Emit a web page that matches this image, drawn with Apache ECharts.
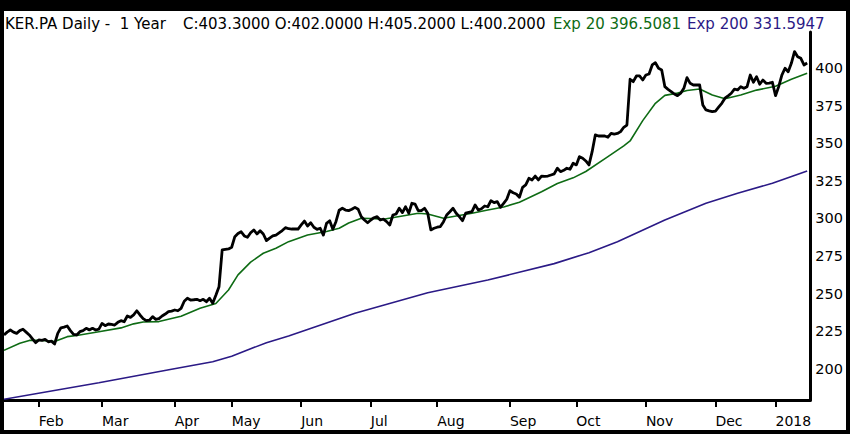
<!DOCTYPE html>
<html>
<head>
<meta charset="utf-8">
<script src="https://cdn.jsdelivr.net/npm/echarts@6/dist/echarts.min.js"></script>
<style>
  html, body { margin: 0; padding: 0; background: #000; width: 850px; height: 434px; overflow: hidden; }
  #c { position: absolute; left: 4px; top: 11px; width: 842px; height: 419px; background: #fff; }
</style>
</head>
<body>
<div id="c"></div>
<script>
// ---- data ----
const title = 'KER.PA Daily -  1 Year';
const ohlcText = 'C:403.3000 O:402.0000 H:405.2000 L:400.2000';
const ema20Label = 'Exp 20 396.5081';
const ema200Label = 'Exp 200 331.5947';
const monthNames = ['Jan','Feb','Mar','Apr','May','Jun','Jul','Aug','Sep','Oct','Nov','Dec'];
const yTicks = [200, 225, 250, 275, 300, 325, 350, 375, 400];
const firstDay = '2017-01-17';
const lastDay = '2018-01-17';
const holidays = ['2017-04-14','2017-04-17','2017-05-01','2017-12-25','2017-12-26','2018-01-01'];

// daily close, one per trading day
const closeValues = [
  222.6, 224.5, 225.9, 224.5, 223.7, 225.5, 226.4, 224.5, 222.6, 220.0,
  217.5, 219.3, 219.0, 219.7, 218.1, 218.5, 216.6, 223.7, 227.4, 227.8,
  228.6, 225.5, 223.0, 222.6, 224.8, 225.5, 227.0, 226.0, 227.0, 225.9,
  226.5, 230.3, 228.8, 229.9, 229.6, 229.2, 231.0, 232.1, 231.4, 235.2,
  234.3, 236.0, 238.7, 235.9, 233.5, 232.1, 232.4, 234.8, 233.0, 233.5,
  235.2, 236.5, 238.1, 238.5, 239.2, 238.7, 240.3, 245.0, 247.0, 245.8,
  246.0, 246.3, 245.4, 246.3, 244.7, 247.0, 243.7, 249.0, 254.7, 279.1,
  279.5, 279.8, 280.9, 287.9, 290.0, 291.2, 288.4, 287.5, 290.5, 292.4,
  289.7, 291.9, 289.7, 285.3, 287.0, 288.4, 289.0, 290.5, 292.0, 293.9,
  293.2, 293.0, 293.0, 293.0, 295.7, 298.3, 295.0, 297.2, 294.2, 292.8,
  293.5, 289.0, 296.8, 298.5, 292.8, 298.0, 305.5, 306.8, 305.6, 305.2,
  306.1, 307.4, 306.1, 301.2, 299.0, 297.2, 299.0, 300.5, 301.2, 299.0,
  299.5, 297.9, 295.7, 302.3, 303.0, 306.8, 303.9, 307.8, 303.5, 310.1,
  309.6, 305.2, 305.2, 306.8, 303.5, 292.4, 293.5, 294.2, 294.6, 297.9,
  302.3, 304.5, 306.8, 303.5, 301.2, 298.5, 303.5, 304.0, 304.5, 309.0,
  305.6, 306.5, 308.3, 307.8, 311.8, 310.5, 311.2, 307.4, 310.0, 312.8,
  318.5, 317.1, 316.3, 314.1, 320.7, 322.3, 326.7, 325.6, 328.2, 325.6,
  328.2, 328.0, 328.2, 328.9, 329.6, 333.4, 331.1, 332.0, 333.4, 332.7,
  336.7, 335.6, 341.1, 340.0, 338.2, 335.6, 344.4, 355.5, 354.8, 354.8,
  354.8, 354.0, 356.6, 356.1, 356.5, 357.7, 360.6, 362.1, 392.5, 390.9,
  394.7, 394.7, 392.0, 395.3, 396.0, 402.0, 403.5, 399.8, 398.7, 387.6,
  385.8, 384.3, 382.7, 381.6, 383.2, 386.5, 393.6, 389.8, 388.7, 388.7,
  388.7, 375.4, 372.1, 371.5, 371.0, 371.4, 374.0, 376.5, 379.9, 381.5,
  383.2, 386.0, 385.4, 387.6, 386.5, 387.6, 395.3, 390.5, 394.2, 389.2,
  392.0, 389.8, 390.0, 390.5, 381.6, 387.6, 395.3, 399.8, 397.5, 403.1,
  410.9, 407.5, 406.4, 402.0, 403.3
];

// EMA 20 read at trading-day positions [dayIndex, value]
const ema20Points = [
  [0, 212.4], [5, 217.1], [8, 219.0], [12, 219.0], [16, 218.3], [20, 221.5],
  [23, 222.3], [30, 224.8], [37, 227.3], [41, 230.0], [44, 231.2], [49, 231.5],
  [56, 235.0], [62, 240.3], [67, 243.5], [71, 252.5], [74, 262.5], [78, 271.0],
  [82, 276.9], [86, 280.2], [90, 284.6], [96, 289.0], [102, 291.3], [106, 293.5],
  [109, 297.0], [113, 300.1], [116, 300.0], [120, 299.5], [126, 301.7], [131, 303.5],
  [134, 303.0], [139, 300.1], [143, 301.7], [148, 303.5], [153, 305.6], [158, 307.6],
  [163, 310.8], [165, 312.8], [170, 317.8], [175, 323.2], [180, 327.0], [184, 331.2],
  [191, 341.1], [196, 348.2], [198, 351.5], [202, 365.0], [206, 376.5], [209, 381.8],
  [213, 383.3], [216, 385.0], [220, 386.0], [224, 382.0], [228, 379.6], [233, 382.0],
  [238, 385.3], [244, 387.8], [249, 392.5], [254, 396.5]
];

// EMA 200 read at trading-day positions [dayIndex, value]
const ema200Points = [
  [0, 179.9], [30, 190.9], [53, 199.8], [66, 204.8], [72, 208.5], [83, 217.5],
  [90, 221.9], [111, 237.0], [134, 250.6], [153, 259.1], [174, 270.0], [185, 277.3],
  [194, 284.6], [209, 299.0], [222, 310.1], [232, 316.7], [243, 323.4], [254, 331.6]
];

const yMin = 179.4;
const yMax = 423.9;

// ---- trading calendar (weekdays minus exchange holidays) ----
function buildDays() {
  const out = [];
  const d = new Date(firstDay + 'T00:00:00Z');
  const end = new Date(lastDay + 'T00:00:00Z');
  while (d <= end) {
    const s = d.toISOString().slice(0, 10);
    const wd = d.getUTCDay();
    if (wd !== 0 && wd !== 6 && holidays.indexOf(s) < 0) out.push(s);
    d.setUTCDate(d.getUTCDate() + 1);
  }
  return out;
}
const days = buildDays();

function isMonthStart(index) {
  if (index === 0) return false;
  return days[index].slice(0, 7) !== days[index - 1].slice(0, 7);
}

const FONT = 'DejaVu Sans';
const GREEN = '#0e6b14';
const PURPLE = '#2b1a86';
const HEAD_FONT = '15px "DejaVu Sans"';

const chart = echarts.init(document.getElementById('c'), null, { renderer: 'svg' });
chart.setOption({
  animation: false,
  backgroundColor: '#fff',
  textStyle: { fontFamily: FONT },
  graphic: [
    { type: 'text', left: 1, top: 5, style: { text: title, fill: '#000', font: HEAD_FONT } },
    { type: 'text', left: 179, top: 5, style: { text: ohlcText, fill: '#000', font: HEAD_FONT } },
    { type: 'text', left: 549, top: 5, style: { text: ema20Label, fill: GREEN, font: HEAD_FONT } },
    { type: 'text', left: 683, top: 5, style: { text: ema200Label, fill: PURPLE, font: HEAD_FONT } }
  ],
  grid: { left: 0, right: 34, top: 21, bottom: 30, containLabel: false },
  xAxis: {
    type: 'category',
    data: days,
    boundaryGap: false,
    axisLine: { show: true, lineStyle: { color: '#000', width: 3 } },
    axisTick: { show: true, interval: isMonthStart, length: 7, inside: false, lineStyle: { color: '#000', width: 2 } },
    axisLabel: {
      interval: isMonthStart,
      align: 'left',
      margin: 14,
      fontSize: 14,
      color: '#000',
      fontFamily: FONT,
      formatter: function (v) {
        const m = parseInt(v.slice(5, 7), 10) - 1;
        return m === 0 ? v.slice(0, 4) : monthNames[m];
      }
    },
    splitLine: { show: false }
  },
  yAxis: {
    type: 'value',
    position: 'right',
    min: yMin,
    max: yMax,
    splitLine: { show: false },
    axisLine: { show: true, lineStyle: { color: '#000', width: 3 } },
    axisTick: { show: false },
    axisLabel: { customValues: yTicks, margin: 5, fontSize: 14.5, color: '#000', fontFamily: FONT }
  },
  series: [
    {
      name: 'Exp 200', type: 'line', data: ema200Points, showSymbol: false, symbol: 'none',
      lineStyle: { color: PURPLE, width: 1.6 }, z: 2
    },
    {
      name: 'Exp 20', type: 'line', data: ema20Points, showSymbol: false, symbol: 'none',
      lineStyle: { color: GREEN, width: 1.6 }, z: 3
    },
    {
      name: 'Close', type: 'line', data: closeValues, showSymbol: false, symbol: 'none',
      lineStyle: { color: '#000', width: 2.8, join: 'round' }, z: 4
    }
  ]
});
</script>
</body>
</html>
